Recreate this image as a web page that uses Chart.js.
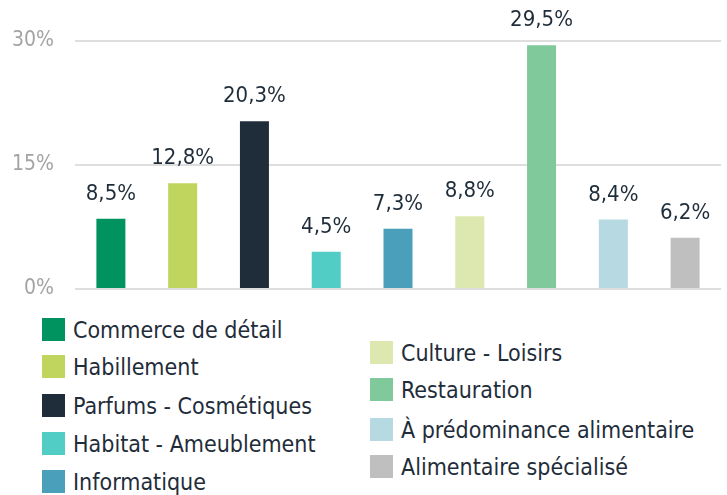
<!DOCTYPE html>
<html>
<head>
<meta charset="utf-8">
<script src="https://cdn.jsdelivr.net/npm/chart.js@4"></script>
<style>
  body { margin: 0; background: #fff; }
  .wrap { position: relative; width: 727px; height: 495px; overflow: hidden; }
  #chart { position: absolute; left: 0; top: 0; }
  .legend-item { position: absolute; height: 23px; display: flex; align-items: center;
    font-family: "Liberation Sans Narrow", "DejaVu Sans Condensed", sans-serif; font-size: 23px; color: #1f2d3a; white-space: nowrap; }
  .legend-item span.sw { display: inline-block; width: 23px; height: 23px; margin-right: 8px; }
</style>
</head>
<body>
<div class="wrap">
  <canvas id="chart" width="727" height="310"></canvas>
  <div id="legend"></div>
</div>
<script>
const categories = ['Commerce de détail', 'Habillement', 'Parfums - Cosmétiques', 'Habitat - Ameublement',
    'Informatique', 'Culture - Loisirs', 'Restauration', 'À prédominance alimentaire', 'Alimentaire spécialisé'];
const shares = [8.5, 12.8, 20.3, 4.5, 7.3, 8.8, 29.5, 8.4, 6.2];
const colors = ['#009360', '#c0d55e', '#1f2c3a', '#52cdc5', '#4aa0ba', '#dce8b0', '#80c99b', '#b6d9e2', '#bfbfbf'];
const yTicks = [0, 15, 30];

const fontFamily = '"Liberation Sans Narrow", "DejaVu Sans Condensed", sans-serif';

function fmt(v) {
    return v.toFixed(1).replace('.', ',') + '%';
}

// labels au-dessus des barres
const valueLabels = {
    id: 'valueLabels',
    afterDatasetsDraw(chart) {
        const ctx = chart.ctx;
        const meta = chart.getDatasetMeta(0);
        ctx.save();
        ctx.font = '22px ' + fontFamily;
        ctx.fillStyle = '#1f2d3a';
        ctx.textAlign = 'center';
        ctx.textBaseline = 'alphabetic';
        meta.data.forEach((bar, i) => {
            ctx.fillText(fmt(shares[i]), bar.x, bar.y - 19);
        });
        ctx.restore();
    }
};

new Chart(document.getElementById('chart'), {
    type: 'bar',
    data: {
        labels: categories,
        datasets: [{
            data: shares,
            backgroundColor: colors,
            barPercentage: 0.404,
            categoryPercentage: 1
        }]
    },
    options: {
        responsive: false,
        animation: false,
        layout: { padding: { top: 41, right: 6, bottom: 21, left: 0 } },
        plugins: { legend: { display: false }, tooltip: { enabled: false } },
        scales: {
            x: { display: false },
            y: {
                min: 0,
                max: 30,
                afterBuildTicks: function(scale) {
                    scale.ticks = yTicks.map(v => ({ value: v }));
                },
                afterFit: function(scale) {
                    scale.width = 75;
                    // pas de marge verticale ajoutée par le padding des ticks
                    scale.paddingTop = 0;
                    scale.paddingBottom = 0;
                },
                border: { display: false },
                grid: { color: '#dedede', lineWidth: 2, drawTicks: false },
                ticks: {
                    padding: 21,
                    color: '#a3a3a3',
                    font: { family: fontFamily, size: 21 },
                    callback: v => v + '%'
                }
            }
        }
    },
    plugins: [valueLabels]
});

// légende en deux colonnes
const legendPos = [
    [42, 318], [42, 355], [42, 394], [42, 432], [42, 470],
    [370, 341], [370, 378], [370, 418], [370, 455]
];
const legend = document.getElementById('legend');
categories.forEach((name, i) => {
    const item = document.createElement('div');
    item.className = 'legend-item';
    item.style.left = legendPos[i][0] + 'px';
    item.style.top = legendPos[i][1] + 'px';
    item.innerHTML = '<span class="sw" style="background:' + colors[i] + '"></span>' + name;
    legend.appendChild(item);
});
</script>
</body>
</html>
